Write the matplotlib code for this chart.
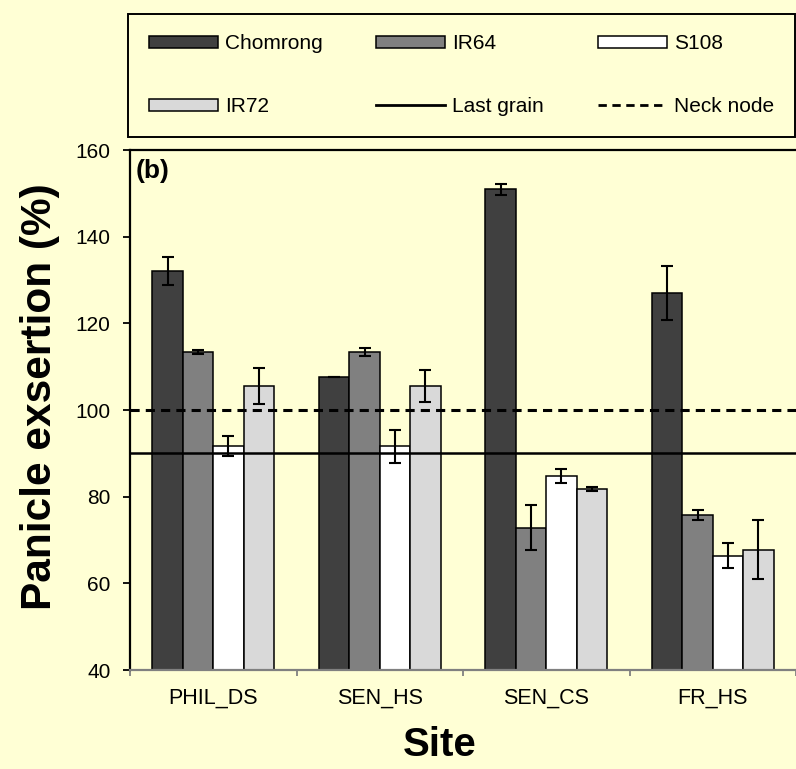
import numpy as np
import matplotlib
matplotlib.use("Agg")
import matplotlib.pyplot as plt
from matplotlib.patches import Patch
from matplotlib.lines import Line2D

plt.rcParams['font.family'] = ['Liberation Sans', 'DejaVu Sans']

# Data
sites = ['PHIL_DS', 'SEN_HS', 'SEN_CS', 'FR_HS']
varieties = ['Chomrong', 'IR64', 'S108', 'IR72']
values = {
    'Chomrong': [132.1, 107.6, 150.9, 127.0],
    'IR64': [113.4, 113.4, 72.8, 75.8],
    'S108': [91.6, 91.6, 84.7, 66.4],
    'IR72': [105.6, 105.6, 81.7, 67.8],
}
errors = {
    'Chomrong': [3.2, 0.0, 1.3, 6.2],
    'IR64': [0.4, 1.0, 5.2, 1.1],
    'S108': [2.3, 3.8, 1.6, 2.8],
    'IR72': [4.2, 3.7, 0.5, 6.9],
}
last_grain = 90
neck_node = 100

colors = {'Chomrong': '#404040', 'IR64': '#808080', 'S108': '#ffffff', 'IR72': '#d9d9d9'}
bg = '#ffffd5'
dash = (0, (3, 2))

fig = plt.figure(figsize=(7.96, 7.69), dpi=100, facecolor=bg)
ax = fig.add_axes([130 / 796, 1 - 670 / 769, 666 / 796, 520 / 769])
ax.set_facecolor(bg)

x = np.arange(len(sites))
width = 0.183
for i, v in enumerate(varieties):
    offset = (i - 1.5) * width
    ax.bar(x + offset, values[v], width, bottom=0, color=colors[v],
           edgecolor='black', linewidth=1.1, zorder=2)
    ax.errorbar(x + offset, values[v], yerr=errors[v], fmt='none',
                ecolor='black', elinewidth=1.5, capsize=4.5, capthick=1.5, zorder=3)

ax.axhline(last_grain, color='black', linewidth=1.8, zorder=4)
ax.axhline(neck_node, color='black', linewidth=2.2, linestyle=dash, zorder=4)

ax.set_ylim(40, 160)
ax.set_xlim(-0.5, 3.5)
ax.set_yticks(np.arange(40, 161, 20))
ax.set_xticks(x)
ax.set_xticklabels(sites)
ax.set_xticks(np.arange(-0.5, 3.6, 1), minor=True)

ax.tick_params(axis='y', direction='out', length=5, width=1.3, colors='black',
               labelsize=15, pad=9)
ax.tick_params(axis='x', which='major', length=0, labelsize=15.5, pad=13)
ax.tick_params(axis='x', which='minor', direction='out', length=4, width=1.3,
               color='#808080')

ax.spines['right'].set_visible(False)
ax.spines['left'].set_linewidth(1.6)
ax.spines['top'].set_linewidth(1.6)
ax.spines['bottom'].set_color('#808080')
ax.spines['bottom'].set_linewidth(1.6)

ax.set_ylabel('Panicle exsertion (%)', fontsize=30.5, fontweight='bold')
ax.yaxis.set_label_coords(-0.105, 0.525)
ax.set_xlabel('Site', fontsize=29, fontweight='bold', va='center')
ax.xaxis.set_label_coords(0.465, -0.144)

ax.text(0.009, 0.96, '(b)', transform=ax.transAxes, fontsize=19,
        fontweight='bold', va='center', ha='left')

# legend fills column by column, so order the handles to read row by row
patch = {v: Patch(facecolor=colors[v], edgecolor='black', linewidth=1.1, label=v)
         for v in varieties}
line_last = Line2D([0], [0], color='black', linewidth=2, label='Last grain')
line_neck = Line2D([0], [0], color='black', linewidth=2, linestyle=dash, label='Neck node')
handles = [patch['Chomrong'], patch['IR72'], patch['IR64'], line_last,
           patch['S108'], line_neck]
leg = fig.legend(handles=handles, ncol=3, loc='lower left',
                 bbox_to_anchor=(128 / 796, 1 - 137 / 769, 667 / 796, 127 / 769),
                 mode='expand', borderaxespad=0, fontsize=15, frameon=True,
                 fancybox=False, edgecolor='black', facecolor=bg, framealpha=1,
                 handlelength=3.3, handleheight=0.55, handletextpad=0.35,
                 labelspacing=2.1, borderpad=1.0)
leg.get_frame().set_linewidth(1.4)

fig.savefig('out.png', dpi=100, facecolor=bg)
